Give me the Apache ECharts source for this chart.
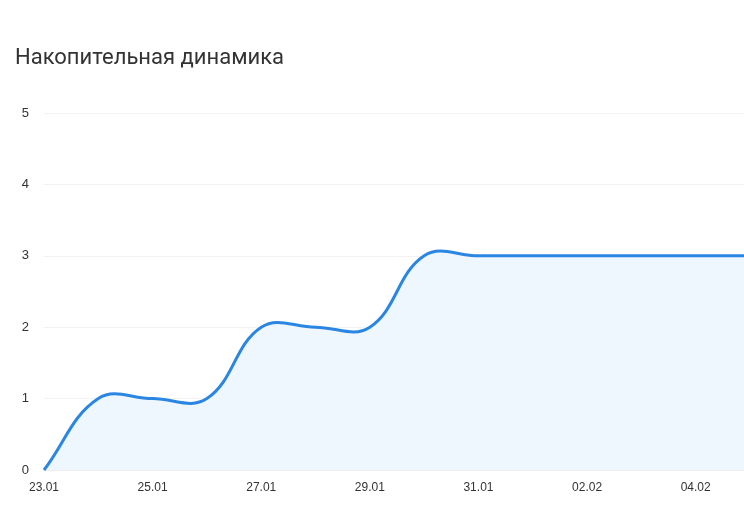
<!DOCTYPE html>
<html><head><meta charset="utf-8">
<script src="https://cdn.jsdelivr.net/npm/echarts@6/dist/echarts.min.js"></script>
<style>html,body{margin:0;padding:0;overflow:hidden;background:#fff}#c{width:750px;height:514px}</style>
</head><body><div id="c"></div>
<script>
const categories = ['23.01','24.01','25.01','26.01','27.01','28.01','29.01','30.01','31.01','01.02','02.02','03.02','04.02','05.02'];
const values = [0,1,1,1,2,2,2,3,3,3,3,3,3,3];
const titleText = 'Накопительная динамика';

function fmt(p){ return p[0].toFixed(2)+' '+p[1].toFixed(2); }
function dist(a,b){ return Math.sqrt((a[0]-b[0])*(a[0]-b[0])+(a[1]-b[1])*(a[1]-b[1])); }

const chart = echarts.init(document.getElementById('c'), null, {renderer:'canvas'});
chart.setOption({
  animation:false,
  title:{text:titleText,left:10,top:42,textStyle:{fontFamily:'Roboto, sans-serif',fontSize:22,fontWeight:'normal',color:'#333'}},
  grid:{left:44,right:0,top:113,bottom:44},
  xAxis:{type:'category',data:categories,boundaryGap:false,
    axisLine:{show:true,lineStyle:{color:'#eeeeee'}},axisTick:{show:false},
    axisLabel:{interval:1,color:'#333',fontSize:12,fontFamily:'Arial, sans-serif',margin:12},
    splitLine:{show:false}},
  yAxis:{type:'value',min:0,max:5,interval:1,
    axisLine:{show:false},axisTick:{show:false},
    axisLabel:{color:'#333',fontSize:13,fontFamily:'Arial, sans-serif',margin:15},
    splitLine:{lineStyle:{color:'#f2f2f2'}}},
  series:[{type:'custom',
    data: values.map((v,i)=>[i,v]),
    encode:{x:0,y:1},
    renderItem:function(params, api){
      if (params.dataIndex !== 0) return null;
      const pts = values.map((v,i)=>api.coord([i,v]));
      const base = api.coord([0,0])[1];
      const n = pts.length, t = 0.4;
      const cpP = [], cpN = [];
      for (let i=0;i<n;i++){
        const prev = pts[Math.max(i-1,0)], cur = pts[i], next = pts[Math.min(i+1,n-1)];
        const d01 = dist(prev,cur), d12 = dist(cur,next);
        let fa = d01/(d01+d12), fb = d12/(d01+d12);
        if (!isFinite(fa)) fa = 0; if (!isFinite(fb)) fb = 0;
        cpP.push([cur[0]-fa*t*(next[0]-prev[0]), cur[1]-fa*t*(next[1]-prev[1])]);
        cpN.push([cur[0]+fb*t*(next[0]-prev[0]), cur[1]+fb*t*(next[1]-prev[1])]);
      }
      let d = 'M'+fmt(pts[0]);
      for (let i=0;i<n-1;i++){
        d += ' C'+fmt(cpN[i])+' '+fmt(cpP[i+1])+' '+fmt(pts[i+1]);
      }
      const area = d+' L'+pts[n-1][0].toFixed(2)+' '+base.toFixed(2)+' L'+pts[0][0].toFixed(2)+' '+base.toFixed(2)+' Z';
      return {type:'group',children:[
        {type:'path',shape:{pathData:area},style:{fill:'#eef6fe',stroke:null}},
        {type:'path',shape:{pathData:d},style:{fill:'none',stroke:'#2a86e2',lineWidth:3}}
      ]};
    }
  }]
});
</script></body></html>
